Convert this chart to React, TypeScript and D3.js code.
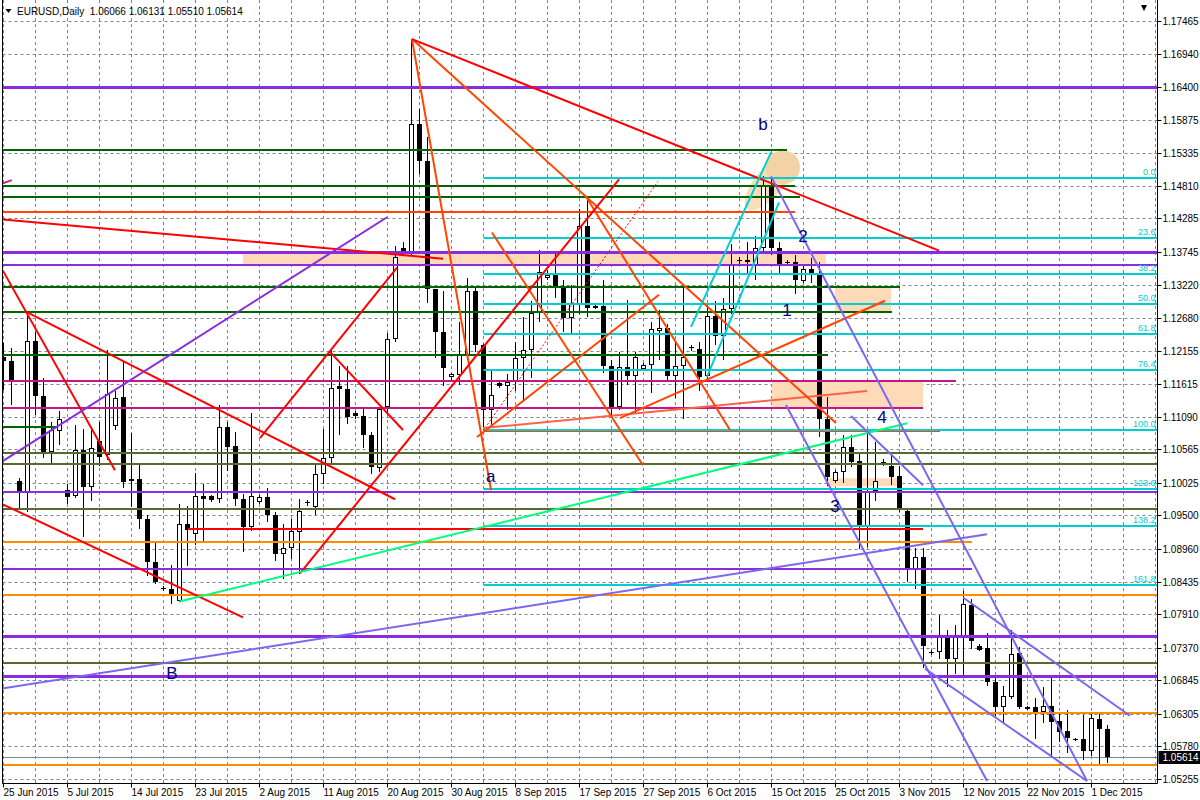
import React from "react";
import * as d3 from "d3";

// ---------- DATA ----------
const OPEN = [
  1.1205, 1.1199, 1.1006, 1.0988, 1.1231, 1.1143, 1.1053, 1.1086, 1.0991, 1.0981,
  1.1056, 1.0996, 1.1070, 1.1047, 1.1094, 1.1141, 1.1005, 1.1008, 1.0945, 1.0875,
  1.0833, 1.0832, 1.0813, 1.0937, 1.0920, 1.0981, 1.0981, 1.0976, 1.1093, 1.1062,
  1.0976, 1.0931, 1.0972, 1.0980, 1.0950, 1.0888, 1.0898, 1.0923, 1.0972, 1.0964,
  1.1017, 1.1042, 1.1159, 1.1153, 1.1115, 1.1111, 1.1079, 1.1026, 1.1125, 1.1234,
  1.1381, 1.1374, 1.1581, 1.1521, 1.1315, 1.1246, 1.1173, 1.1176, 1.1209, 1.1312,
  1.1225, 1.1120, 1.1163, 1.1159, 1.1165, 1.1203, 1.1216, 1.1276, 1.1333, 1.1339,
  1.1319, 1.1268, 1.1290, 1.1416, 1.1285, 1.1287, 1.1190, 1.1125, 1.1189, 1.1174,
  1.1186, 1.1193, 1.1247, 1.1252, 1.1175, 1.1190, 1.1222, 1.1218, 1.1174, 1.1271,
  1.1239, 1.1282, 1.1360, 1.1362, 1.1354, 1.1381, 1.1480, 1.1381, 1.1357, 1.1358,
  1.1327, 1.1347, 1.1341, 1.1106, 1.1006, 1.1020, 1.1060, 1.1037, 1.0931, 1.0990,
  1.1035, 1.1029, 1.1013, 1.0958, 1.0864, 1.0883, 1.0729, 1.0730, 1.0754, 1.0719,
  1.0754, 1.0805, 1.0740, 1.0736, 1.0682, 1.0642, 1.0658, 1.0728, 1.0639, 1.0642,
  1.0633, 1.0643, 1.0619, 1.0603, 1.0589, 1.0590, 1.0570, 1.0622, 1.06066,
];
const HIGH = [
  1.1228, 1.1220, 1.1010, 1.1277, 1.1245, 1.1171, 1.1100, 1.1118, 1.1000, 1.1096,
  1.1090, 1.1088, 1.1100, 1.1217, 1.1150, 1.1198, 1.1083, 1.1034, 1.0950, 1.0905,
  1.0836, 1.0870, 1.0968, 1.0966, 1.1019, 1.1000, 1.0983, 1.1128, 1.1101, 1.1085,
  1.0985, 1.1115, 1.0983, 1.0994, 1.0955, 1.0937, 1.0945, 1.0977, 1.0975, 1.1031,
  1.1090, 1.1217, 1.1190, 1.1190, 1.1118, 1.1125, 1.1085, 1.1125, 1.1244, 1.1384,
  1.1390, 1.1717, 1.1605, 1.1560, 1.1315, 1.1311, 1.1180, 1.1262, 1.1333, 1.1320,
  1.1226, 1.1184, 1.1168, 1.1178, 1.1230, 1.1270, 1.1295, 1.1378, 1.1345, 1.1375,
  1.1330, 1.1322, 1.1443, 1.1459, 1.1292, 1.1330, 1.1200, 1.1214, 1.1297, 1.1214,
  1.1195, 1.1262, 1.1281, 1.1258, 1.1228, 1.1316, 1.1225, 1.1230, 1.1290, 1.1295,
  1.1300, 1.1387, 1.1366, 1.1390, 1.1400, 1.1497, 1.1495, 1.1390, 1.1362, 1.1370,
  1.1354, 1.1365, 1.1358, 1.1141, 1.1024, 1.1079, 1.1079, 1.1050, 1.1090, 1.1069,
  1.1041, 1.1047, 1.1030, 1.0960, 1.0897, 1.0898, 1.0733, 1.0789, 1.0766, 1.0773,
  1.0829, 1.0815, 1.0743, 1.0760, 1.0690, 1.0675, 1.0765, 1.0738, 1.0643, 1.0656,
  1.0673, 1.0689, 1.0632, 1.0636, 1.0591, 1.0628, 1.0633, 1.0630, 1.06131,
];
const LOW = [
  1.1152, 1.1128, 1.0962, 1.0955, 1.1112, 1.1042, 1.1034, 1.1063, 1.0969, 1.0978,
  1.0915, 1.0973, 1.1030, 1.1040, 1.1088, 1.0994, 1.0964, 1.0929, 1.0853, 1.0840,
  1.0828, 1.0808, 1.0810, 1.0868, 1.0903, 1.0908, 1.0972, 1.0970, 1.1022, 1.0965,
  1.0891, 1.0925, 1.0969, 1.0940, 1.0876, 1.0848, 1.0880, 1.0856, 1.0965, 1.0950,
  1.1000, 1.1035, 1.1079, 1.1098, 1.1105, 1.1058, 1.1017, 1.1020, 1.1115, 1.1230,
  1.1370, 1.1370, 1.1500, 1.1292, 1.1203, 1.1158, 1.1168, 1.1160, 1.1200, 1.1214,
  1.1088, 1.1095, 1.1155, 1.1120, 1.1150, 1.1133, 1.1171, 1.1262, 1.1330, 1.1300,
  1.1245, 1.1240, 1.1275, 1.1270, 1.1282, 1.1180, 1.1109, 1.1120, 1.1160, 1.1114,
  1.1183, 1.1147, 1.1200, 1.1165, 1.1140, 1.1105, 1.1215, 1.1150, 1.1166, 1.1225,
  1.1200, 1.1275, 1.1355, 1.1340, 1.1330, 1.1375, 1.1370, 1.1340, 1.1352, 1.1306,
  1.1324, 1.1325, 1.1077, 1.0997, 1.1002, 1.1002, 1.1028, 1.0896, 1.0900, 1.0974,
  1.1030, 1.0999, 1.0955, 1.0843, 1.0832, 1.0705, 1.0725, 1.0719, 1.0673, 1.0694,
  1.0691, 1.0735, 1.0732, 1.0675, 1.0627, 1.0614, 1.0654, 1.0638, 1.0637, 1.0590,
  1.0615, 1.0563, 1.0585, 1.0567, 1.0587, 1.0556, 1.0563, 1.0550, 1.05510,
];
const CLOSE = [
  1.1199, 1.1168, 1.0988, 1.1231, 1.1143, 1.1053, 1.1088, 1.1106, 1.0980, 1.1056,
  1.0996, 1.1059, 1.1044, 1.1146, 1.1139, 1.1004, 1.1009, 1.0945, 1.0875, 1.0843,
  1.0832, 1.0823, 1.0937, 1.0926, 1.0981, 1.0976, 1.0975, 1.1093, 1.1061, 1.0976,
  1.0931, 1.0981, 1.0980, 1.0950, 1.0888, 1.0898, 1.0925, 1.0958, 1.0970, 1.1017,
  1.1042, 1.1156, 1.1153, 1.1108, 1.1110, 1.1079, 1.1028, 1.1121, 1.1234, 1.1366,
  1.1376, 1.1581, 1.1521, 1.1315, 1.1246, 1.1187, 1.1178, 1.1209, 1.1312, 1.1225,
  1.1120, 1.1144, 1.1158, 1.1165, 1.1203, 1.1216, 1.1276, 1.1342, 1.1338, 1.1319,
  1.1268, 1.1290, 1.1416, 1.1284, 1.1288, 1.1190, 1.1125, 1.1189, 1.1174, 1.1206,
  1.1193, 1.1251, 1.1252, 1.1175, 1.1190, 1.1206, 1.1220, 1.1173, 1.1271, 1.1239,
  1.1282, 1.1354, 1.1362, 1.1358, 1.1381, 1.1480, 1.1381, 1.1354, 1.1359, 1.1330,
  1.1347, 1.1341, 1.1106, 1.1012, 1.1020, 1.1060, 1.1036, 1.0931, 1.0988, 1.1006,
  1.1036, 1.1012, 1.0961, 1.0864, 1.0883, 1.0740, 1.0730, 1.0754, 1.0719, 1.0754,
  1.0807, 1.0748, 1.0734, 1.0681, 1.0642, 1.0660, 1.0727, 1.0642, 1.0641, 1.0634,
  1.0643, 1.0618, 1.0602, 1.0591, 1.0590, 1.0570, 1.0624, 1.0606, 1.05614,
];

const DATE_LABELS = [
  "25 Jun 2015", "5 Jul 2015", "14 Jul 2015", "23 Jul 2015", "2 Aug 2015", "11 Aug 2015",
  "20 Aug 2015", "30 Aug 2015", "8 Sep 2015", "17 Sep 2015", "27 Sep 2015", "6 Oct 2015",
  "15 Oct 2015", "25 Oct 2015", "3 Nov 2015", "12 Nov 2015", "22 Nov 2015", "1 Dec 2015",
];
const BARS_PER_LABEL = 8;
const BARS_PER_GRID = 4;

const PRICE_TICKS = [
  1.17465, 1.1694, 1.164, 1.15875, 1.15335, 1.1481, 1.14285, 1.13745, 1.1322, 1.1268,
  1.12155, 1.11615, 1.1109, 1.10565, 1.10025, 1.095, 1.0896, 1.08435, 1.0791, 1.0737,
  1.06845, 1.06305, 1.0578, 1.05255,
];

const TITLE = "EURUSD,Daily  1.06066 1.06131 1.05510 1.05614";
const LAST_PRICE = 1.05614;

// horizontal levels: [price, fromBar|null, toBar|null]
const PURPLE_THICK_LEVELS = [1.164, 1.13745, 1.07557, 1.06911];
const PURPLE_LEVELS = [[1.13529, null, null], [1.09886, null, null], [1.08642, null, 121.06]];
const GREEN_LEVELS = [
  [1.15382, null, 97.94], [1.14805, null, 98.94], [1.14627, null, 99.56],
  [1.13174, null, 112.06], [1.1277, null, 111.06], [1.12092, null, 103.06], [1.10929, null, 6.69],
];
const OLIVE_LEVELS = [1.10509, 1.10322, 1.096, 1.0712];
const MAGENTA_LEVELS = [[1.11672, null, 119.06], [1.11236, null, 114.94]];
const RED_LEVELS = [[1.09285, 23.06, 114.94]];
const ORANGE_LEVELS = [[1.09071, null, 121.06], [1.08219, null, null], [1.06316, null, null], [1.05481, null, null]];
const ORANGERED_LEVELS = [[1.14385, null, 98.94], [1.10863, 60, 117.06]];

// Fibonacci retracement
const FIB_START_BAR = 60;
const FIB_LOW = 1.1088;
const FIB_HIGH = 1.1493;
const FIB_LEVELS = [0, 23.6, 38.2, 50, 61.8, 76.4, 100, 123.6, 138.2, 161.8];

// trend lines: [bar1, price1, bar2, price2]
const RED_TRENDS = [
  [-0.06, 1.14267, 54.94, 1.13637],
  [-0.02, 1.13432, 13.94, 1.1023],
  [2.98, 1.1277, 48.94, 1.09761],
  [-0.1, 1.0968, 29.94, 1.0786],
  [32.06, 1.10746, 49.19, 1.13492],
  [40.81, 1.12135, 49.94, 1.10876],
  [37.06, 1.08566, 76.94, 1.14913],
  [51.06, 1.17174, 116.94, 1.13767],
];
const ORANGERED_TRENDS = [
  [51.06, 1.17174, 60.94, 1.09907],
  [51.06, 1.17174, 104.06, 1.10989],
  [61.06, 1.14057, 79.94, 1.1031],
  [59.19, 1.10763, 81.94, 1.13056],
  [72.81, 1.14639, 90.81, 1.10876],
  [77.06, 1.11069, 110.19, 1.12959],
];
const TOMATO_TRENDS = [[59.94, 1.10908, 107.94, 1.11505]];
const DOTTED_TRENDS = [[60.19, 1.10908, 81.81, 1.14881]];
const CYAN_TRENDS = [[85.94, 1.12539, 95.94, 1.15349], [87.94, 1.11732, 96.94, 1.14542]];
const VIOLET_TRENDS = [[-0.1, 1.10375, 47.94, 1.14304]];
const MAGENTA_TRENDS = [[-0.1, 1.14849, 1.03, 1.14902]];
const SPRING_TRENDS = [[21.98, 1.08114, 112.94, 1.10984]];
const SLATE_TRENDS = [
  [-0.44, 1.06709, 122.94, 1.09196],
  [95.94, 1.14962, 135.44, 1.05223],
  [97.81, 1.11279, 122.94, 1.05223],
  [105.94, 1.11102, 114.94, 1.09987],
  [119.94, 1.08178, 140.81, 1.06273],
  [115.19, 1.07032, 135.44, 1.05223],
];

// rectangles: [bar1, bar2, priceLow, priceHigh]
const PEACH_RECTS = [
  [29.94, 102.81, 1.13529, 1.13745],
  [103.94, 110.94, 1.1277, 1.13164],
  [96.06, 114.94, 1.11231, 1.11683],
  [103.06, 111.69, 1.09971, 1.101],
];
const HIGHLIGHT_CIRCLE = [97.44, 1.15107];
const HIGHLIGHT_ELLIPSE = [95.69, 1.1486];

// wave labels: [text, bar, price]
const WAVE_LABELS = [
  ["b", 94.94, 1.15802],
  ["a", 60.9, 1.10133],
  ["1", 97.94, 1.12798],
  ["2", 99.94, 1.13993],
  ["3", 103.94, 1.09648],
  ["4", 109.81, 1.11086],
  ["B", 21.06, 1.06951],
];

// ---------- COMPONENT ----------
const FONT = "'Liberation Sans', Arial, sans-serif";

export default function App() {
  const L = 2.5;
  const R = 1157.5;
  const B = 783.5;
  const N = CLOSE.length;
  const x = d3.scaleLinear().domain([0, N - 1]).range([3.5, 3.5 + 8 * (N - 1)]);
  const y = d3.scaleLinear().domain([1.05255, 1.17465]).range([779, 21]);
  const xl = (k: number | null) => (k === null ? L : x(k));
  const xr = (k: number | null) => (k === null ? R : x(k));
  const yc = (p: number, w: number) => (w % 2 === 1 ? Math.round(y(p)) + 0.5 : Math.round(y(p)));

  const gridXs: number[] = [];
  for (let k = 0; x(k) <= R; k += BARS_PER_GRID) gridXs.push(x(k));

  const hline = (p: number, a: number | null, b: number | null, color: string, w: number, key: string) => (
    <line key={key} x1={xl(a)} x2={xr(b)} y1={yc(p, w)} y2={yc(p, w)} stroke={color} strokeWidth={w} />
  );
  const tline = (t: number[], color: string, w: number, key: string, dash?: string) => (
    <line key={key} x1={x(t[0])} y1={y(t[1])} x2={x(t[2])} y2={y(t[3])} stroke={color} strokeWidth={w}
      strokeDasharray={dash} />
  );

  const fibPrice = (lvl: number) => FIB_HIGH - (FIB_HIGH - FIB_LOW) * (lvl / 100);

  return (
    <div style={{ position: "absolute", left: 0, top: 0, width: 1200, height: 800, background: "#fff" }}>
      <svg width={1200} height={800} style={{ display: "block" }} fontFamily={FONT}>
        <defs>
          <clipPath id="plot">
            <rect x={L} y={0} width={R - L} height={B} />
          </clipPath>
        </defs>
        <rect x={0} y={0} width={1200} height={800} fill="#ffffff" />

        {/* grid */}
        <g stroke="#778899" strokeWidth={1} strokeDasharray="3 3" clipPath="url(#plot)">
          {gridXs.map((gx, i) => (
            <line key={"gx" + i} x1={gx} x2={gx} y1={0} y2={B} />
          ))}
          {PRICE_TICKS.map((p, i) => (
            <line key={"gy" + i} x1={L} x2={R} y1={Math.round(y(p)) + 0.5} y2={Math.round(y(p)) + 0.5} />
          ))}
        </g>

        <g clipPath="url(#plot)">
          {/* background objects */}
          {PEACH_RECTS.map((r, i) => (
            <rect key={"pr" + i} x={x(r[0])} width={x(r[1]) - x(r[0])} y={y(r[3])} height={y(r[2]) - y(r[3])}
              fill="#FFDAB9" />
          ))}
          <ellipse cx={x(HIGHLIGHT_ELLIPSE[0])} cy={y(HIGHLIGHT_ELLIPSE[1])} rx={34} ry={14}
            transform={`rotate(-50 ${x(HIGHLIGHT_ELLIPSE[0])} ${y(HIGHLIGHT_ELLIPSE[1])})`} fill="#F8DEB8" />
          <circle cx={x(HIGHLIGHT_CIRCLE[0])} cy={y(HIGHLIGHT_CIRCLE[1])} r={17} fill="#F3D3A6" />

          {/* current price line */}
          <line x1={L} x2={R} y1={Math.round(y(LAST_PRICE)) + 0.5} y2={Math.round(y(LAST_PRICE)) + 0.5}
            stroke="#778899" strokeWidth={1} />

          {/* candles */}
          {CLOSE.map((c, i) => {
            const o = OPEN[i];
            const cx = x(i);
            const top = Math.round(y(Math.max(o, c)));
            const bot = Math.round(y(Math.min(o, c)));
            const bull = c >= o;
            return (
              <g key={"c" + i}>
                <line x1={cx} x2={cx} y1={Math.round(y(HIGH[i]))} y2={Math.round(y(LOW[i]))} stroke="#000" strokeWidth={1} />
                {bot - top < 2 ? (
                  <line x1={cx - 2.5} x2={cx + 2.5} y1={top + 0.5} y2={top + 0.5} stroke="#000" strokeWidth={1} />
                ) : bull ? (
                  <rect x={cx - 2} y={top + 0.5} width={4} height={bot - top - 1} fill="#fff" stroke="#000" strokeWidth={1} />
                ) : (
                  <rect x={cx - 2.5} y={top} width={5} height={bot - top} fill="#000" />
                )}
              </g>
            );
          })}

          {/* horizontal levels */}
          {OLIVE_LEVELS.map((p, i) => hline(p, null, null, "#556B2F", 2, "ol" + i))}
          {GREEN_LEVELS.map((h, i) => hline(h[0] as number, h[1] as any, h[2] as any, "#006400", 2, "gl" + i))}
          {MAGENTA_LEVELS.map((h, i) => hline(h[0] as number, h[1] as any, h[2] as any, "#C71585", 2, "ml" + i))}
          {ORANGE_LEVELS.map((h, i) => hline(h[0] as number, h[1] as any, h[2] as any, "#FF8C00", 2, "orl" + i))}
          {ORANGERED_LEVELS.map((h, i) => hline(h[0] as number, h[1] as any, h[2] as any, "#FF4500", 2, "orr" + i))}
          {RED_LEVELS.map((h, i) => hline(h[0] as number, h[1] as any, h[2] as any, "#FF0000", 2, "rl" + i))}

          {/* fibonacci */}
          {FIB_LEVELS.map((lvl, i) => hline(fibPrice(lvl), FIB_START_BAR, null, "#00CED1", 2, "fib" + i))}

          {PURPLE_LEVELS.map((h, i) => hline(h[0] as number, h[1] as any, h[2] as any, "#8A2BE2", 2, "pl" + i))}
          {PURPLE_THICK_LEVELS.map((p, i) => hline(p, null, null, "#8A2BE2", 3, "pt" + i))}

          {/* trend lines */}
          {DOTTED_TRENDS.map((t, i) => tline(t, "#FF0000", 1, "dt" + i, "2 2"))}
          {TOMATO_TRENDS.map((t, i) => tline(t, "#FF6347", 2, "tt" + i))}
          {ORANGERED_TRENDS.map((t, i) => tline(t, "#FF4500", 2, "ot" + i))}
          {RED_TRENDS.map((t, i) => tline(t, "#FF0000", 2, "rt" + i))}
          {VIOLET_TRENDS.map((t, i) => tline(t, "#8A2BE2", 2, "vt" + i))}
          {MAGENTA_TRENDS.map((t, i) => tline(t, "#C71585", 2, "mt" + i))}
          {SPRING_TRENDS.map((t, i) => tline(t, "#00FF7F", 2, "st" + i))}
          {CYAN_TRENDS.map((t, i) => tline(t, "#00CED1", 2, "ct" + i))}
          {SLATE_TRENDS.map((t, i) => tline(t, "#7B68EE", 2, "sl" + i))}

          {/* fib labels */}
          {FIB_LEVELS.map((lvl, i) => (
            <text key={"fl" + i} x={R - 2} y={Math.round(y(fibPrice(lvl))) - 3} textAnchor="end" fontSize={9}
              fill="#00CED1">{lvl.toFixed(1)}</text>
          ))}

          {/* wave labels */}
          {WAVE_LABELS.map((w, i) => (
            <text key={"wl" + i} x={x(w[1] as number)} y={y(w[2] as number)} textAnchor="middle"
              dominantBaseline="central" fontSize={17} fill="#000080">{w[0]}</text>
          ))}
        </g>

        {/* frame / axes */}
        <line x1={L} x2={L} y1={0} y2={B} stroke="#000" strokeWidth={1} />
        <line x1={R} x2={R} y1={0} y2={B} stroke="#000" strokeWidth={1} />
        <line x1={L} x2={R} y1={B} y2={B} stroke="#000" strokeWidth={1} />

        {/* price axis */}
        {PRICE_TICKS.map((p, i) => (
          <g key={"pt" + i}>
            <line x1={R} x2={R + 4} y1={Math.round(y(p)) + 0.5} y2={Math.round(y(p)) + 0.5} stroke="#000" />
            <text x={R + 5} y={Math.round(y(p)) + 0.5} dominantBaseline="central" fontSize={10} fill="#000">
              {p.toFixed(5)}
            </text>
          </g>
        ))}
        <rect x={R + 1} y={Math.round(y(LAST_PRICE)) - 6} width={1200 - R} height={13} fill="#000" />
        <text x={R + 5} y={Math.round(y(LAST_PRICE)) + 0.5} dominantBaseline="central" fontSize={10} fill="#fff">
          {LAST_PRICE.toFixed(5)}
        </text>

        {/* date axis */}
        {DATE_LABELS.map((lab, i) => {
          const tx = x(i * BARS_PER_LABEL);
          return (
            <g key={"dl" + i}>
              <line x1={tx} x2={tx} y1={B} y2={B + 4} stroke="#000" />
              <text x={tx} y={796} fontSize={10} fill="#000">{lab}</text>
            </g>
          );
        })}

        {/* title */}
        <polygon points="5.5,9 11.5,9 8.5,13" fill="#000" />
        <text x={17} y={15} fontSize={10} fill="#000" style={{ whiteSpace: "pre" }}>{TITLE}</text>
        <polygon points="1141,5 1147,5 1144,11" fill="#000" />
      </svg>
    </div>
  );
}
